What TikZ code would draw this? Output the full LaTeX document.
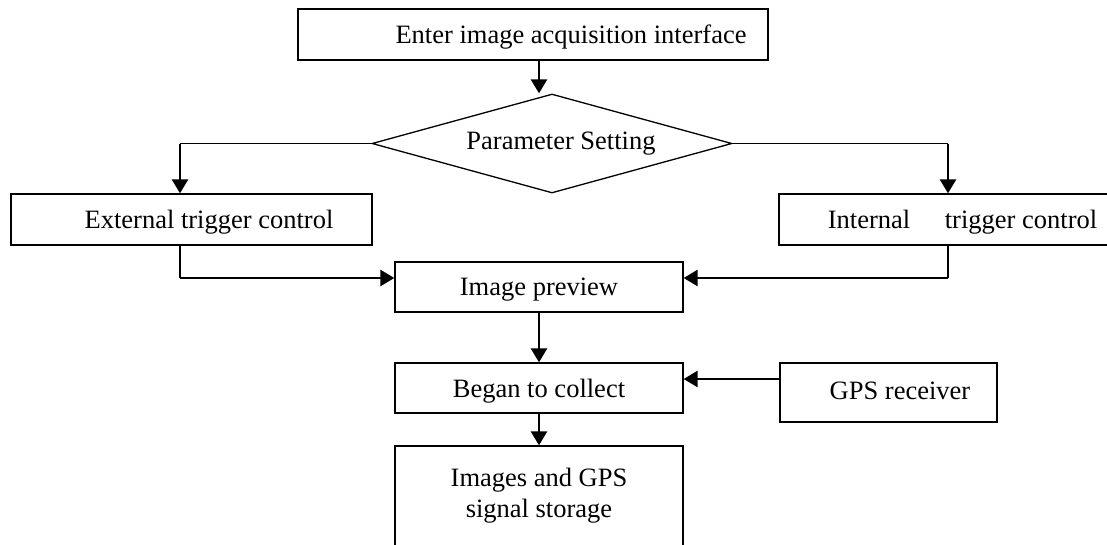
\documentclass[tikz,border=0pt]{standalone}
\usepackage{fontspec}
\setmainfont{Liberation Serif}
\usetikzlibrary{arrows.meta,shapes.geometric}
\begin{document}
\begin{tikzpicture}[x=1pt,y=-1pt,
  txt/.style={font=\fontsize{26.5}{31}\selectfont},
  box/.style={draw, line width=1.3pt, rectangle, inner sep=0pt, txt, align=center, text depth=0pt},
  dec/.style={draw, diamond, line width=1.3pt, inner sep=0pt, aspect=3.6, txt},
  thinln/.style={line width=1.4pt},
  arr/.style={line width=2.7pt, -{Triangle[length=14pt,width=16pt]}}]
\useasboundingbox (0,0) rectangle (1107,544);
\clip (0,0) rectangle (1107,544);
% nodes
\node[box, minimum width=470pt, minimum height=51pt] (top) at (533,34.5) {\hspace*{76pt}Enter image acquisition interface};
\node[dec, minimum width=360pt, minimum height=99pt] (dia) at (552,143.5) {\hspace*{18pt}Parameter Setting};
\node[box, minimum width=361pt, minimum height=51pt] (ext) at (191.5,219.5) {\hspace*{35pt}External trigger control};
\node[box, minimum width=367pt, minimum height=51pt] (int) at (962.5,219.5) {Internal\hspace*{28pt} trigger control};
\node[box, minimum width=288pt, minimum height=50pt] (pre) at (539,287) {Image preview};
\node[box, minimum width=288pt, minimum height=50pt] (beg) at (539,388) {Began to collect};
\node[box, text depth=4pt, minimum width=217pt, minimum height=59pt] (gps) at (888.5,392.5) {\hspace*{23pt}GPS receiver};
\node[box, text depth=0pt, minimum width=288pt, minimum height=124pt] (sto) at (539,508) {Images and GPS\\signal storage\\\mbox{}};
% helper coordinates
\coordinate (lx) at (180,0);
\coordinate (rx) at (948,0);
\coordinate (ly) at (0,278);
\coordinate (gy) at (0,379);
% connectors
\draw[arr] (top.south -| pre.north) -- (pre.north |- dia.north);
\draw[thinln] (dia.west) -- (dia.west -| lx);
\draw[arr] (dia.west -| lx) -- (lx |- ext.north);
\draw[thinln] (dia.east) -- (dia.east -| rx);
\draw[arr] (dia.east -| rx) -- (rx |- int.north);
\draw[thinln] (lx |- ext.south) -- (lx |- ly);
\draw[arr] (lx |- ly) -- (ly -| pre.west);
\draw[thinln] (rx |- int.south) -- (rx |- ly);
\draw[arr] (rx |- ly) -- (ly -| pre.east);
\draw[arr] (pre.south) -- (beg.north);
\draw[arr] (gy -| gps.west) -- (gy -| beg.east);
\draw[arr] (beg.south) -- (sto.north);
\end{tikzpicture}
\end{document}
